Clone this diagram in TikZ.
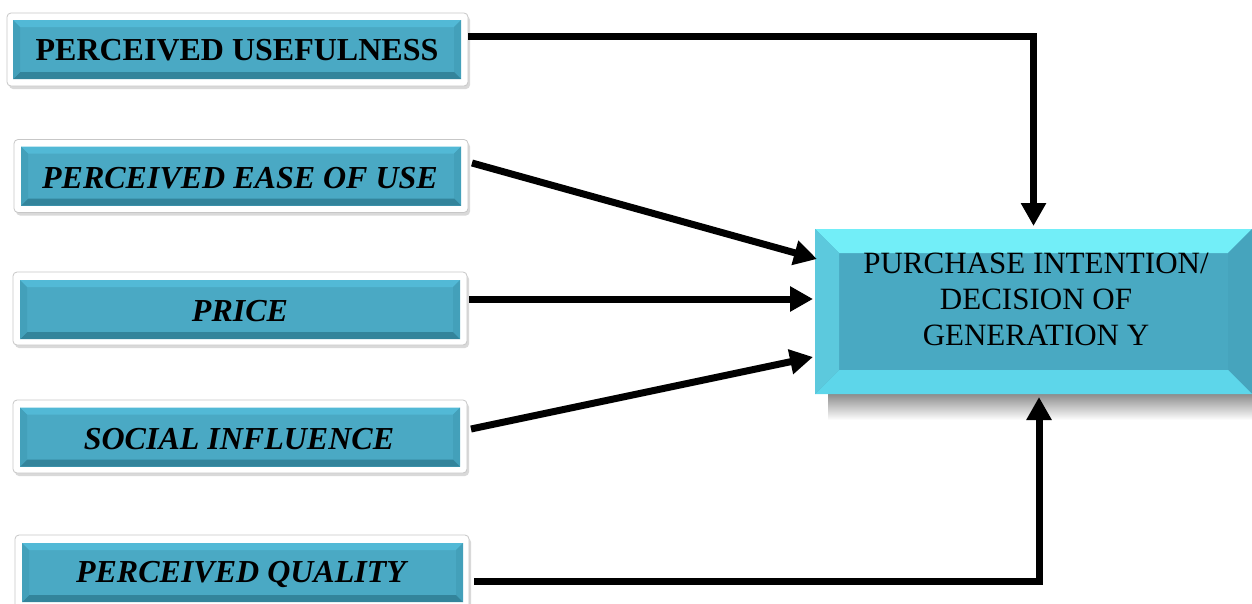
\documentclass[tikz,border=0pt]{standalone}
\usepackage{fontspec}
\setmainfont{Liberation Serif}
\usetikzlibrary{arrows.meta,shadows,calc}
\definecolor{face}{HTML}{4AA9C4}
\definecolor{bvtop}{HTML}{52B9D6}
\definecolor{bvside}{HTML}{43A0BA}
\definecolor{bvbot}{HTML}{33849B}
\definecolor{tface}{HTML}{49A9C2}
\definecolor{ttop}{HTML}{72EEF8}
\definecolor{tleft}{HTML}{5CC9DD}
\definecolor{tbot}{HTML}{5DD6EA}
\definecolor{tright}{HTML}{46A4BD}
\newcommand\bevelbox[6]{%
 \fill[#3] (#1.north west) -- (#1.north east) -- ([shift={(-#2,-#2)}]#1.north east) -- ([shift={(#2,-#2)}]#1.north west) -- cycle;
 \fill[#4] (#1.north east) -- (#1.south east) -- ([shift={(-#2,#2)}]#1.south east) -- ([shift={(-#2,-#2)}]#1.north east) -- cycle;
 \fill[#5] (#1.south east) -- (#1.south west) -- ([shift={(#2,#2)}]#1.south west) -- ([shift={(-#2,#2)}]#1.south east) -- cycle;
 \fill[#6] (#1.south west) -- (#1.north west) -- ([shift={(#2,-#2)}]#1.north west) -- ([shift={(#2,#2)}]#1.south west) -- cycle;
}
\tikzset{
 frame/.style={draw=black!22, line width=0.8pt, fill=white, rounded corners=4pt, inner sep=0pt, outer sep=0pt,
   minimum width=454pt, minimum height=73pt,
   drop shadow={shadow xshift=2pt, shadow yshift=-3pt, opacity=0.25, fill=black!60}},
 facebox/.style={fill=face, inner sep=0pt, outer sep=0pt, minimum width=440pt, minimum height=59pt},
 lbl/.style={font=\fontsize{32pt}{36pt}\selectfont\bfseries, text=black, inner sep=0pt},
 lbli/.style={lbl, font=\fontsize{32pt}{36pt}\selectfont\bfseries\itshape},
 conn/.style={line width=7pt, -{Triangle[length=23pt,width=24pt]}, black},
}
\begin{document}
\begin{tikzpicture}[x=1pt,y=-1pt]
\useasboundingbox (0,0) rectangle (1252,603);
% source boxes
\node[frame, minimum width=461pt] (f1) at (237.5,49.5) {};
\node[facebox, minimum width=448pt] (b1) at (237,49.5) {};
\node[frame] (f2) at (241,176) {};
\node[facebox] (b2) at (241,176) {};
\node[frame] (f3) at (240,308.5) {};
\node[facebox] (b3) at (240,309.5) {};
\node[frame] (f4) at (240,436.5) {};
\node[facebox] (b4) at (240,437) {};
\node[frame] (f5) at (242,571.5) {};
\node[facebox, minimum width=441pt] (b5) at (242.5,572.5) {};
\foreach \n in {b1,b2,b3,b4,b5}{\bevelbox{\n}{7pt}{bvtop}{bvside}{bvbot}{bvside}}
\node[lbl] (t1) at (237,50) {PERCEIVED USEFULNESS};
\node[lbli] (t2) at (240,178) {PERCEIVED EASE OF USE};
\node[lbli] (t3) at (240,311) {PRICE};
\node[lbli] (t4) at (239,439) {SOCIAL INFLUENCE};
\node[lbli] (t5) at (241,574) {PERCEIVED QUALITY};
% target
\shade[top color=black!45, bottom color=white] (828,394) rectangle (1252,420);
\node[fill=tface, inner sep=0pt, outer sep=0pt, minimum width=437pt, minimum height=165pt] (tg) at (1033.5,311.5) {};
\bevelbox{tg}{24pt}{ttop}{tright}{tbot}{tleft}
\node[align=center, font=\fontsize{31pt}{36pt}\selectfont, inner sep=0pt] (tt) at (1036,299) {PURCHASE INTENTION/\\DECISION OF\\GENERATION Y};
% connectors
\draw[conn] ([yshift=13.5pt]f1.east) -| ([yshift=3pt]tg.north);
\draw[conn] ([shift={(4pt,13pt)}]f2.east) -- ([shift={(2pt,52.5pt)}]tg.west);
\draw[conn] ([shift={(2pt,9.5pt)}]f3.east) -- ([shift={(-2pt,12.5pt)}]tg.west);
\draw[conn] ([shift={(4pt,7.5pt)}]f4.east) -- ([shift={(-2pt,-45.5pt)}]tg.west);
\draw[conn] ([shift={(5pt,-9.5pt)}]f5.east) -| ([shift={(5.5pt,-3pt)}]tg.south);
\end{tikzpicture}
\end{document}
